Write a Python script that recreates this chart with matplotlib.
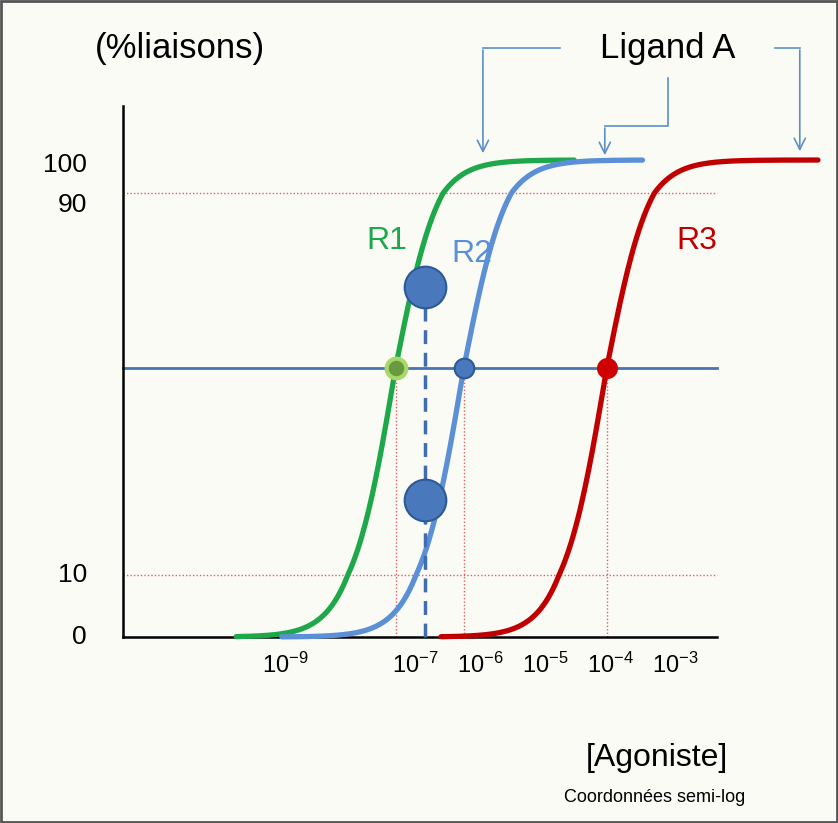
import numpy as np
import matplotlib
matplotlib.use("Agg")
import matplotlib.pyplot as plt
from matplotlib.patches import Rectangle

plt.rcParams['font.family'] = ['Liberation Sans', 'DejaVu Sans']
plt.rcParams['mathtext.fontset'] = 'custom'
plt.rcParams['mathtext.rm'] = 'Liberation Sans'
plt.rcParams['mathtext.it'] = 'Liberation Sans'

# data (x in log10 [agonist], y in % binding)
curve_names = ["R1", "R2", "R3"]
ec50_log = [-7.3, -6.25, -4.05]
curve_start = [-9.75, -9.05, -6.6]
curve_end = [-4.55, -3.5, -0.8]
hill = 1.3
curve_colors = ["#1ea84a", "#5b8fd6", "#c00000"]
xtick_vals = [-9, -7, -6, -5, -4, -3]
ytick_vals = [0, 10, 90, 100]
big_points_x = [-6.85, -6.85]
big_points_y = [68.5, 24.5]

# schematic (non-uniform) y axis scale
y_knots = np.array([-40, 0, 10, 50, 90, 100, 140], dtype=float)
y_pix = 823 - np.array([823, 637, 575, 368, 193, 160, 0], dtype=float)

def fwd(y):
    return np.interp(y, y_knots, y_pix)

def inv(p):
    return np.interp(p, y_pix, y_knots)

fig = plt.figure(figsize=(8.38, 8.23), dpi=100)
fig.patch.set_facecolor("#fbfbf6")
ax = fig.add_axes([0, 0, 1, 1])
ax.set_facecolor("#fbfbf6")
ax.set_yscale('function', functions=(fwd, inv))
ax.set_xlim(-13.385, -0.492)
ax.set_ylim(-40, 140)
ax.axis("off")

x0, xr = -11.5, -2.35
for y in (10, 90):
    ax.plot([x0, xr], [y, y], color="#e06060", ls=(0, (1, 1.5)), lw=1)
for xv in ec50_log:
    ax.plot([xv, xv], [0, 50], color="#e06060", ls=(0, (1, 1.5)), lw=1)
ax.plot([x0, xr], [50, 50], color="#4a74b4", lw=2)

ax.plot([x0, x0], [0, 113.5], color="black", lw=1.8)
ax.plot([x0, xr], [0, 0], color="black", lw=1.8)

for name, ec, s, e, c in zip(curve_names, ec50_log, curve_start, curve_end, curve_colors):
    x = np.linspace(s, e, 300)
    y = 100 / (1 + 10 ** (hill * (ec - x)))
    ax.plot(x, y, color=c, lw=3.8, solid_capstyle="round")

ax.plot([big_points_x[0]] * 2, [0, big_points_y[0]], color="#3f6db0", lw=2.5, ls=(0, (4, 2.5)))
ax.scatter(big_points_x, big_points_y, s=900, color="#4a78bd", edgecolor="#2c5a96", lw=1.5, zorder=5)
ax.scatter([ec50_log[0]], [50], s=200, color="#6a9a40", edgecolor="#a6d86a", lw=3, zorder=5)
ax.scatter([ec50_log[1]], [50], s=200, color="#4a78bd", edgecolor="#2c5a96", lw=1.5, zorder=5)
ax.scatter([ec50_log[2]], [50], s=200, color="#d00000", zorder=5)

for xv in xtick_vals:
    ax.annotate(r"$10^{%d}$" % xv, (xv, 0), xytext=(0, -28), textcoords="offset pixels",
                ha="center", va="center", fontsize=17)
for yv in ytick_vals:
    off = {0: 0, 10: 0, 90: -12, 100: -5}[yv]
    ax.annotate(str(yv), (-12.05, yv), xytext=(0, off), textcoords="offset pixels",
                ha="right", va="center", fontsize=19)

ax.text(-7.43, 79, "R1", color=curve_colors[0], fontsize=23, ha="center", va="center")
ax.text(-6.12, 76, "R2", color=curve_colors[1], fontsize=23, ha="center", va="center")
ax.text(-2.66, 79, "R3", color=curve_colors[2], fontsize=23, ha="center", va="center")

ax.text(-10.62, 128, "(%liaisons)", fontsize=25, ha="center", va="center")
ax.text(-3.11, 128, "Ligand A", fontsize=25, ha="center", va="center")
ax.text(-3.28, -26, "[Agoniste]", fontsize=23, ha="center", va="center")
ax.text(-3.31, -34.5, "Coordonnées semi-log", fontsize=13, ha="center", va="center")

ac = "#5b8fc9"
apr = dict(arrowstyle="->", color=ac, lw=1.2, mutation_scale=20)
ax.plot([-5.955, -4.77], [128, 128], color=ac, lw=1.2)
ax.annotate("", xy=(-5.955, 101), xytext=(-5.955, 128.2), arrowprops=apr)
ax.plot([-1.46, -1.08], [128, 128], color=ac, lw=1.2)
ax.annotate("", xy=(-1.08, 101.5), xytext=(-1.08, 128.2), arrowprops=apr)
ax.plot([-3.11, -3.11, -4.08], [120.5, 108.5, 108.5], color=ac, lw=1.2)
ax.annotate("", xy=(-4.08, 100.5), xytext=(-4.08, 108.7), arrowprops=apr)

fig.add_artist(Rectangle((0.001, 0.001), 0.998, 0.998, transform=fig.transFigure,
                         fill=False, edgecolor="#555555", lw=2))
fig.savefig("out.png", dpi=100, facecolor=fig.get_facecolor())
